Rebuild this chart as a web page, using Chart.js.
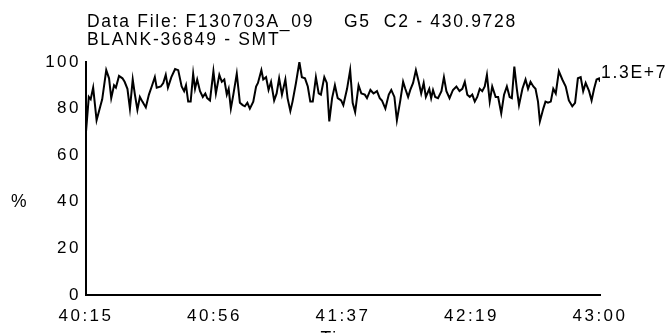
<!DOCTYPE html>
<html>
<head>
<meta charset="utf-8">
<script src="https://cdn.jsdelivr.net/npm/chart.js@4/dist/chart.umd.min.js"></script>
<style>
  html, body { margin: 0; padding: 0; background: #fff; }
</style>
</head>
<body>
<canvas id="chart" width="670" height="333"></canvas>
<script>
// Beschriftungen
const headerLine1 = "Data File: F130703A_09";
const headerLine1b = "G5  C2 - 430.9728";
const headerLine2 = "BLANK-36849 - SMT";
const scaleNote = "1.3E+7";
const tickLabels = ["40:15", "40:56", "41:37", "42:19", "43:00"];
const tickSeconds = [0, 41.25, 82.5, 123.75, 165];

// Zeit (Sekunden ab 40:15) und Intensität in %
const times = [
  0.0, 0.9, 1.5, 2.3, 3.4, 4.7, 5.2, 6.5, 7.4, 8.1, 9.0, 9.6, 10.6, 11.7, 12.4, 13.3,
  14.1, 15.0, 15.7, 16.5, 17.3, 18.1, 19.2, 20.2, 21.1, 22.1, 22.7, 24.0, 24.8, 25.6,
  26.3, 27.4, 28.6, 29.6, 30.7, 31.5, 32.1, 32.8, 33.6, 34.4, 35.0, 35.7, 36.6, 37.5,
  38.3, 38.9, 39.8, 40.9, 41.7, 42.8, 43.6, 44.4, 45.2, 45.8, 46.5, 47.3, 48.4, 49.4,
  50.3, 51.0, 51.8, 52.6, 53.7, 54.6, 55.2, 56.3, 56.9, 57.8, 58.6, 59.4, 60.4, 61.2,
  62.0, 62.9, 64.0, 64.7, 65.6, 66.3, 67.4, 68.5, 69.3, 70.3, 71.2, 72.0, 72.8, 73.8,
  74.7, 75.4, 76.5, 77.3, 78.1, 79.0, 79.9, 80.8, 81.9, 82.6, 83.8, 84.8, 85.6, 86.4,
  87.5, 88.4, 89.5, 90.2, 91.3, 92.3, 93.4, 94.3, 95.0, 96.1, 97.2, 98.0, 99.0, 99.8,
  100.9, 101.8, 102.5, 103.4, 104.1, 105.0, 105.9, 106.8, 107.6, 108.4, 109.1, 110.2,
  110.8, 111.4, 112.1, 113.0, 114.1, 114.9, 115.7, 116.7, 117.8, 118.9, 119.9, 120.8,
  121.6, 122.4, 123.2, 124.0, 124.8, 125.6, 126.4, 127.2, 128.0, 128.7, 129.6, 130.4,
  131.5, 132.3, 133.3, 134.2, 135.1, 136.0, 136.7, 137.5, 138.3, 139.0, 140.1, 141.1,
  141.9, 142.7, 143.6, 144.3, 145.1, 145.7, 146.8, 147.5, 148.3, 149.2, 150.0, 150.8,
  151.8, 152.9, 154.0, 155.0, 156.1, 157.0, 157.9, 158.8, 159.6, 160.4, 161.5, 162.3,
  163.1, 163.9, 164.7, 165.0
];
const values = [
  70, 85, 84, 89, 75, 81.5, 84, 96.5, 93, 84.5, 90, 89, 94, 93, 91.5, 88.5,
  80, 92.5, 86, 79.5, 85, 83, 80.5, 86, 89.5, 93.5, 89, 89.5, 91, 94.5,
  89, 93.5, 97, 96.5, 89.5, 87.5, 90, 83, 83, 95, 88.5, 92.5, 87.5, 85,
  86.5, 84.5, 83.5, 96, 86.5, 94.5, 91.5, 92.5, 86, 88.5, 80, 86, 95, 82.5,
  81.5, 81, 82.5, 80, 83, 89.5, 91, 96.5, 92.5, 93.5, 88, 91.5, 83.5, 86.5,
  93, 86, 92.5, 84.5, 79, 83, 91, 100, 93.5, 93, 89.5, 83, 83, 93.5,
  86.5, 86, 93.5, 91, 74.5, 84.5, 90, 84.5, 83.5, 81.5, 88.5, 96.5, 82.5, 78.5,
  90, 86.5, 86, 84.5, 88, 86.5, 87.5, 84.5, 83.5, 80, 86, 88, 85, 75,
  83.5, 91.5, 88.5, 85, 88, 91, 96.5, 91.5, 86.5, 91, 85, 88.5,
  84.5, 88, 85, 84.5, 87.5, 93.5, 87.5, 84.5, 88, 89.5, 87.5, 88.5,
  91.5, 86, 85, 86, 83, 85, 88.5, 87.5, 89.5, 94.5, 83, 89.5,
  85, 85, 78, 86, 89.5, 85, 84.5, 98, 88.5, 81.5, 88.5, 92.5,
  88.5, 91.5, 89.5, 88.5, 83, 74.5, 80, 83, 82.5, 83, 88.5, 86.5,
  96, 92.5, 89.5, 83.5, 81, 82.5, 93, 93.5, 87.5, 91, 87.5, 83.5,
  88.5, 92.5, 93, 91.5
];

const FONT = "'Liberation Sans', Arial, sans-serif";

// Zusätzliche Texte rund um die Zeichenfläche
const textPlugin = {
  id: "extraText",
  beforeDraw(chart) {
    // leicht gesperrte Schrift wie im Original (auch für die Achsenbeschriftung)
    chart.ctx.letterSpacing = "2.5px";
  },
  afterDraw(chart) {
    const ctx = chart.ctx;
    const area = chart.chartArea;
    ctx.save();
    ctx.fillStyle = "#000";
    ctx.font = "17.5px " + FONT;
    ctx.letterSpacing = "1.7px";
    ctx.textBaseline = "middle";
    ctx.textAlign = "left";
    ctx.fillText(headerLine1, area.left + 1, 22);
    ctx.fillText(headerLine1b, area.left + 258, 22);
    ctx.fillText(headerLine2, area.left + 1, 40);
    ctx.fillText(scaleNote, area.right + 1, 73);
    ctx.fillText("%", 11, 202);
    ctx.textAlign = "center";
    ctx.fillText("Time", (area.left + area.right) / 2, 339);
    ctx.restore();
  }
};

new Chart(document.getElementById("chart"), {
  type: "line",
  data: {
    datasets: [{
      data: times.map((t, i) => ({ x: t, y: values[i] })),
      borderColor: "#000",
      borderWidth: 2,
      pointRadius: 0,
      tension: 0,
      fill: false
    }]
  },
  options: {
    responsive: false,
    animation: false,
    layout: { padding: { left: 0, right: 70, top: 62, bottom: 0 } },
    plugins: {
      legend: { display: false },
      tooltip: { enabled: false }
    },
    scales: {
      x: {
        type: "linear",
        min: 0,
        max: 165,
        afterBuildTicks: scale => {
          scale.ticks = tickSeconds.map(v => ({ value: v }));
        },
        afterFit: scale => { scale.height = 38; },
        grid: { display: false, drawTicks: false },
        border: { display: true, color: "#000", width: 2 },
        ticks: {
          padding: 11,
          maxRotation: 0,
          autoSkip: false,
          color: "#000",
          font: { family: FONT, size: 17 },
          callback: (v, i) => tickLabels[i]
        }
      },
      y: {
        min: 0,
        max: 100,
        afterFit: scale => { scale.width = 86; },
        grid: { display: false, drawTicks: false },
        border: { display: true, color: "#000", width: 2 },
        ticks: {
          stepSize: 20,
          padding: 5,
          color: "#000",
          font: { family: FONT, size: 17 }
        }
      }
    }
  },
  plugins: [textPlugin]
});
</script>
</body>
</html>
